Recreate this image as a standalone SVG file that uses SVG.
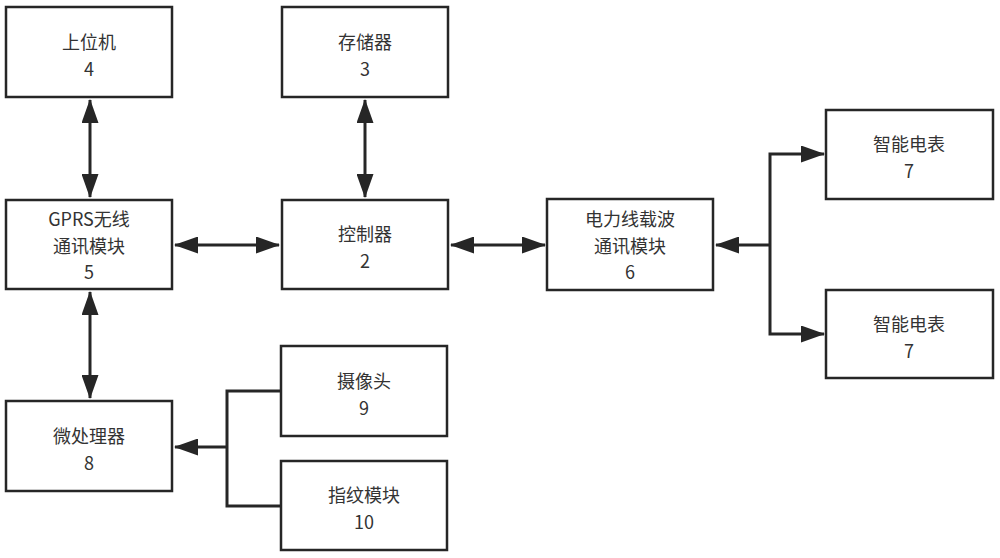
<svg xmlns="http://www.w3.org/2000/svg" width="1000" height="558" viewBox="0 0 1000 558">
<style>
.box{fill:#fff;stroke:#262626;stroke-width:2.5}
.t{font-family:"Noto Sans CJK SC","Noto Sans",sans-serif;font-size:18px;fill:#333;text-anchor:middle;dominant-baseline:central}
.c{fill:none;stroke:#262626;stroke-width:3}
</style>
<defs>
<marker id="ah" markerUnits="userSpaceOnUse" markerWidth="24" markerHeight="17" refX="23" refY="8.5" orient="auto-start-reverse">
<path d="M0,0 L24,8.5 L0,17 z" fill="#262626"/>
</marker>
</defs>
<rect width="1000" height="558" fill="#fff"/>
<g id="connectors">
<line class="c" x1="90" y1="100" x2="90" y2="197" marker-start="url(#ah)" marker-end="url(#ah)"/>
<line class="c" x1="365" y1="100" x2="365" y2="197" marker-start="url(#ah)" marker-end="url(#ah)"/>
<line class="c" x1="175" y1="245" x2="279" y2="245" marker-start="url(#ah)" marker-end="url(#ah)"/>
<line class="c" x1="451" y1="245" x2="545" y2="245" marker-start="url(#ah)" marker-end="url(#ah)"/>
<line class="c" x1="90" y1="292" x2="90" y2="398" marker-start="url(#ah)" marker-end="url(#ah)"/>
<line class="c" x1="770" y1="245" x2="716" y2="245" marker-end="url(#ah)"/>
<polyline class="c" points="770,245 770,154 824,154" marker-end="url(#ah)"/>
<polyline class="c" points="770,245 770,334 824,334" marker-end="url(#ah)"/>
<polyline class="c" points="281,391 227,391 227,506 281,506"/>
<line class="c" x1="227" y1="447" x2="175" y2="447" marker-end="url(#ah)"/>
</g>
<g id="n4"><rect class="box" x="6" y="7" width="166" height="90"/><text class="t" x="89" y="41">上位机<tspan x="89" dy="26.5">4</tspan></text></g>
<g id="n3"><rect class="box" x="282" y="7" width="166" height="90"/><text class="t" x="365" y="41">存储器<tspan x="365" dy="26.5">3</tspan></text></g>
<g id="n5"><rect class="box" x="6" y="200" width="166" height="89"/><text class="t" x="89" y="218">GPRS无线<tspan x="89" dy="26.5">通讯模块</tspan><tspan x="89" dy="26.5">5</tspan></text></g>
<g id="n2"><rect class="box" x="282" y="200" width="166" height="89"/><text class="t" x="365" y="233">控制器<tspan x="365" dy="26.5">2</tspan></text></g>
<g id="n6"><rect class="box" x="547" y="199" width="166" height="91"/><text class="t" x="630" y="218">电力线载波<tspan x="630" dy="26.5">通讯模块</tspan><tspan x="630" dy="26.5">6</tspan></text></g>
<g id="n7a"><rect class="box" x="826" y="110" width="167" height="89"/><text class="t" x="909" y="143">智能电表<tspan x="909" dy="26.5">7</tspan></text></g>
<g id="n7b"><rect class="box" x="826" y="290" width="167" height="88"/><text class="t" x="909" y="323">智能电表<tspan x="909" dy="26.5">7</tspan></text></g>
<g id="n8"><rect class="box" x="6" y="401" width="166" height="90"/><text class="t" x="89" y="435">微处理器<tspan x="89" dy="26.5">8</tspan></text></g>
<g id="n9"><rect class="box" x="281" y="346" width="166" height="90"/><text class="t" x="364" y="380">摄像头<tspan x="364" dy="26.5">9</tspan></text></g>
<g id="n10"><rect class="box" x="281" y="461" width="166" height="89"/><text class="t" x="364" y="494">指纹模块<tspan x="364" dy="26.5">10</tspan></text></g>
</svg>
